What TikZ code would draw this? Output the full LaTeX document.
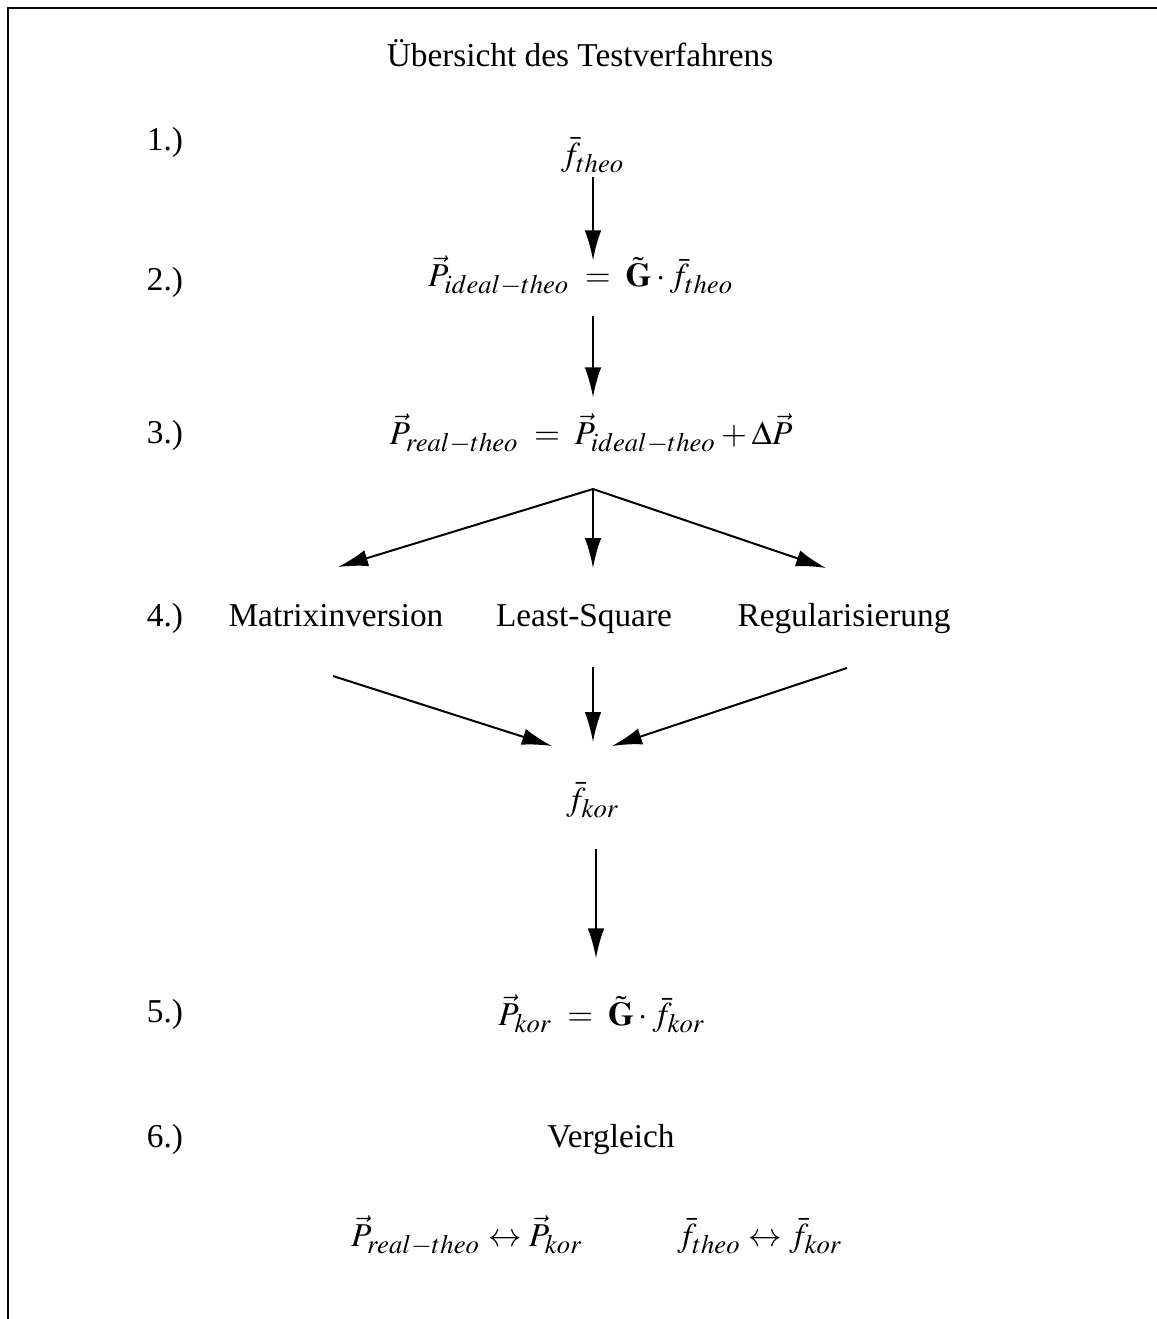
\documentclass[tikz,border=0pt]{standalone}
\usepackage{mathptmx}
\usepackage{fontspec}
\setmainfont{Liberation Serif}
\DeclareMathSizes{10}{10}{8}{6}
\usetikzlibrary{arrows.meta}
\tikzset{>={Latex[length=9pt,width=5pt]}}
\tikzset{pfeil/.style={->, line width=0.6pt}}

\begin{document}
\begin{tikzpicture}[x=0.3pt,y=-0.3pt]
        \useasboundingbox (0,0) rectangle (1157,1319);
        \draw[line width=0.8pt] (8,1319) -- (8,8) -- (1157,8);
        \node[anchor=base] (titel) at (580,66) {Übersicht des Testverfahrens};
        \foreach \n/\y in {1/150,2/290,3/443,4/626,5/1022,6/1147}
        \node[anchor=base] (nr\n) at (165,\y) {\n.)};
        % Schritte
        \node (ftheo) at (593,155) {$\bar{f}_{theo}$};
        \node (pideal) at (581,276) {$\vec{P}_{ideal-theo} \;=\; \tilde{\mathbf{G}}\cdot\bar{f}_{theo}$};
        \node (preal) at (591,434) {$\vec{P}_{real-theo} \;=\; \vec{P}_{ideal-theo} + \Delta\vec{P}$};
        \node[anchor=base] (mat) at (336,626) {Matrixinversion};
        \node[anchor=base] (lsq) at (584,626) {Least-Square};
        \node[anchor=base] (reg) at (844,626) {Regularisierung};
        \node (fkor) at (593,800) {$\bar{f}_{kor}$};
        \node (pkor) at (602,1014) {$\vec{P}_{kor} \;=\; \tilde{\mathbf{G}}\cdot\bar{f}_{kor}$};
        \node[anchor=base] (vgl) at (611,1147) {Vergleich};
        \node (vglP) at (467,1236) {$\vec{P}_{real-theo} \leftrightarrow \vec{P}_{kor}$};
        \node (vglF) at (760,1236) {$\bar{f}_{theo} \leftrightarrow \bar{f}_{kor}$};
        % senkrechte Pfeile
        \draw[pfeil, shorten <=-2pt, shorten >=-4.8pt] (ftheo.south) -- (ftheo.south |- pideal.north);
        \draw[pfeil, shorten <=2.4pt, shorten >=1.5pt] (ftheo.south |- pideal.south) -- (ftheo.south |- preal.north);
        \draw[pfeil, shorten <=6pt, shorten >=7.5pt] ([xshift=0.9pt]fkor.south) -- ([xshift=0.9pt]fkor.south |- pkor.north);
        % Verzweigung
        \coordinate (gabel) at (593,489);
        \coordinate (zielL) at (338,567);
        \coordinate (zielM) at (593,568);
        \coordinate (zielR) at (826,568);
        \foreach \z in {zielL,zielM,zielR}
        \draw[pfeil] (gabel) -- (\z);
        % Zusammenfuehrung
        \coordinate (startL) at (333,676);
        \coordinate (startM) at (593,667);
        \coordinate (startR) at (847,668);
        \coordinate (spitzeL) at (552,746);
        \coordinate (spitzeM) at (593,742);
        \coordinate (spitzeR) at (612,746);
        \foreach \s in {L,M,R}
        \draw[pfeil] (start\s) -- (spitze\s);
    \end{tikzpicture}
\end{document}
